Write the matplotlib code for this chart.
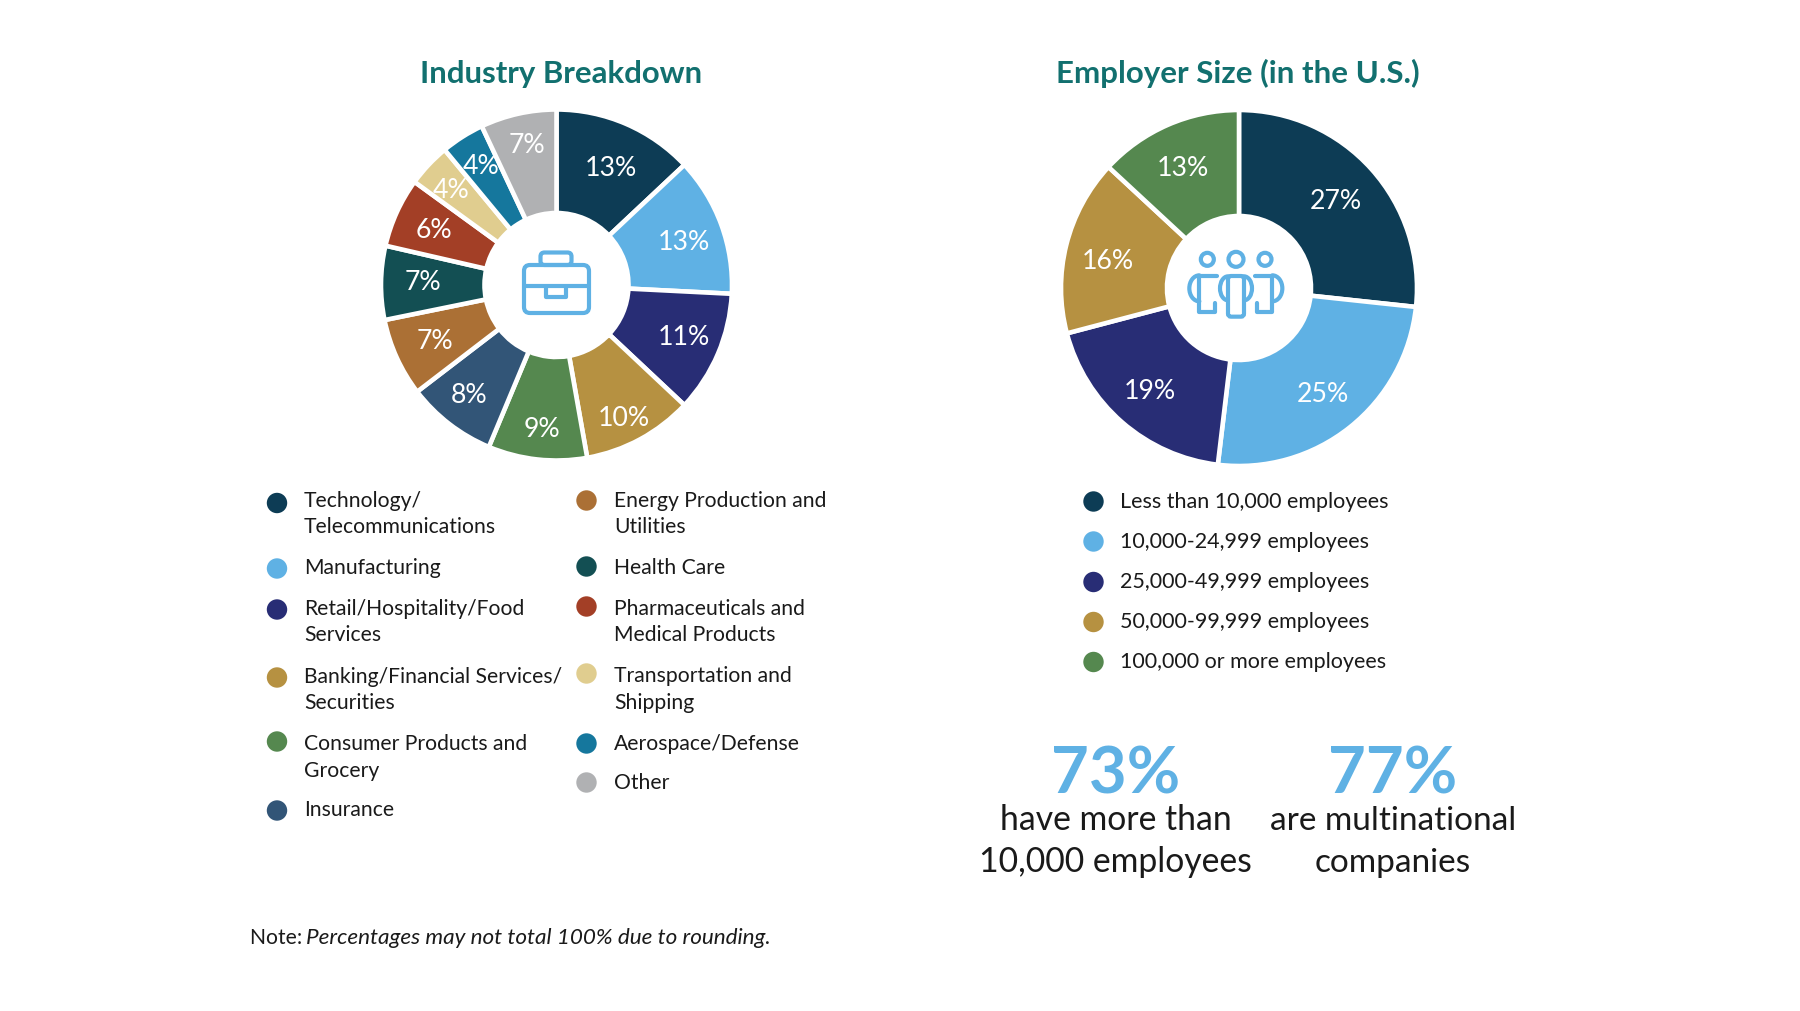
import matplotlib
matplotlib.use("Agg")
import matplotlib.pyplot as plt
from matplotlib.patches import Circle, FancyBboxPatch, Arc

plt.rcParams['font.family'] = ['Lato', 'DejaVu Sans']

# ---- data ----
industry_names = ["Technology/\nTelecommunications", "Manufacturing", "Retail/Hospitality/Food\nServices",
                  "Banking/Financial Services/\nSecurities", "Consumer Products and\nGrocery", "Insurance",
                  "Energy Production and\nUtilities", "Health Care", "Pharmaceuticals and\nMedical Products",
                  "Transportation and\nShipping", "Aerospace/Defense", "Other"]
industry_shares = [13.0, 12.8, 11.2, 10.2, 9.1, 8.3, 7.2, 6.8, 6.4, 4.0, 4.0, 7.0]
industry_labels = ["13%", "13%", "11%", "10%", "9%", "8%", "7%", "7%", "6%", "4%", "4%", "7%"]
industry_colors = ["#0d3c55", "#5fb1e4", "#282d75", "#b69141", "#55884f", "#325577",
                   "#ab7035", "#134f53", "#a33f26", "#e0cd8f", "#15779d", "#b0b1b3"]

size_names = ["Less than 10,000 employees", "10,000-24,999 employees", "25,000-49,999 employees",
              "50,000-99,999 employees", "100,000 or more employees"]
size_shares = [26.7, 25.2, 19.0, 16.0, 13.1]
size_labels = ["27%", "25%", "19%", "16%", "13%"]
size_colors = ["#0d3c55", "#5fb1e4", "#282d75", "#b69141", "#55884f"]

# ---- layout (pixels) ----
W, H = 1800, 1011
TEAL = "#12706f"
BLUE = "#5fb1e4"
TXT = "#1a1a1a"

fig = plt.figure(figsize=(W / 100, H / 100), dpi=100, facecolor="white")


def pie_axes(cx, cy, r):
    return fig.add_axes([(cx - r) / W, 1 - (cy + r) / H, 2 * r / W, 2 * r / H])


def draw_pie(cx, cy, r, inner, shares, colors):
    ax = pie_axes(cx, cy, r)
    ax.pie(shares, colors=colors, startangle=90, counterclock=False, radius=1,
           wedgeprops=dict(width=1 - inner / r, edgecolor="white", linewidth=3.3))
    ax.set_xlim(-1, 1)
    ax.set_ylim(-1, 1)
    ax.set_aspect("equal")
    ax.axis("off")


draw_pie(556.5, 285, 175.5, 72, industry_shares, industry_colors)
draw_pie(1239, 288, 178, 72, size_shares, size_colors)

ov = fig.add_axes([0, 0, 1, 1], zorder=5)
ov.set_xlim(0, W)
ov.set_ylim(H, 0)
ov.axis("off")
ov.patch.set_alpha(0)


def t(x, y, s, size, color=TXT, ha="left", va="center", **kw):
    return ov.text(x, y, s, fontsize=size, color=color, ha=ha, va=va, **kw)


# titles
t(561, 74, "Industry Breakdown", 22.4, TEAL, ha="center", weight="bold")
t(1238, 73, "Employer Size (in the U.S.)", 22.5, TEAL, ha="center", weight="bold")

# pie labels
left_pos = [(783, 378), (1003, 600), (1003, 885), (822, 1128), (575, 1160), (358, 1058),
            (255, 898), (218, 720), (253, 563), (302, 445), (393, 372), (530, 310)]
for (zx, zy), lab in zip(left_pos, industry_labels):
    t(350 + zx / 3, 42.5 + zy / 3, lab, 19.2, "white", ha="center")
right_pos = [(887, 477), (850, 1055), (328, 1047), (203, 657), (430, 378)]
for (zx, zy), lab in zip(right_pos, size_labels):
    t(1040 + zx / 3, 42.5 + zy / 3, lab, 19.2, "white", ha="center")


def dot(x, y, c):
    ov.add_patch(Circle((x, y), 10.2, facecolor=c, edgecolor="none"))


# legend 1
col1_dot = [503, 568.5, 609.5, 677.5, 741.5, 810.5]
col1_txt = [514, 568, 622, 690, 757.5, 810.5]
col2_dot = [500.5, 566.5, 606.5, 673.5, 743.5, 782.5]
col2_txt = [514, 568.5, 622, 689.5, 744, 783]
for i in range(6):
    dot(277, col1_dot[i], industry_colors[i])
    t(304, col1_txt[i], industry_names[i], 15.2, linespacing=1.43)
    dot(586.5, col2_dot[i], industry_colors[i + 6])
    t(614, col2_txt[i], industry_names[i + 6], 15.2, linespacing=1.43)

# legend 2
leg2_y = [501.5, 541.5, 582, 622, 662]
for y, n, c in zip(leg2_y, size_names, size_colors):
    dot(1093.5, y, c)
    t(1120, y, n, 15.5)

# note
t(250, 937.5, "Note: ", 15.2)
t(306.5, 937.5, "Percentages may not total 100% due to rounding.", 16.2, style="italic")

# big stats
t(1115.5, 775, "73%", 47, BLUE, ha="center", weight="bold")
t(1393, 775, "77%", 47, BLUE, ha="center", weight="bold")
t(1116, 820.5, "have more than", 24.3, ha="center")
t(1115, 861.5, "10,000 employees", 24.3, ha="center")
t(1393.5, 820.5, "are multinational", 24.0, ha="center")
t(1393, 863.5, "companies", 24.0, ha="center")

# ---- icons ----
LW = 3.0
kw = dict(facecolor="none", edgecolor=BLUE, linewidth=LW, capstyle="round")


def rrect(x0, y0, x1, y1, rad):
    ov.add_patch(FancyBboxPatch((x0 + rad, y0 + rad), x1 - x0 - 2 * rad, y1 - y0 - 2 * rad,
                                boxstyle=f"round,pad={rad},rounding_size={rad}", **kw))


def line(xs, ys):
    ov.plot(xs, ys, color=BLUE, lw=LW, solid_capstyle="round", solid_joinstyle="round")


# briefcase
rrect(524, 265, 589, 313, 6)
rrect(540.5, 252.5, 571.5, 265, 4)
line([524, 589], [286, 286])
line([546, 546, 566, 566], [286, 297, 297, 286])

# people
zx = lambda v: 1040 + v / 3
zy = lambda v: 40 + v / 3
for vx, rad in [(502, 6.5), (588, 7.5), (675, 6.5)]:
    ov.add_patch(Circle((zx(vx), zy(658)), rad, **kw))
rrect(zx(564), zy(708), zx(612), zy(830), 3)
line([zx(530), zx(478), zx(478), zx(525), zx(525)], [zy(708), zy(708), zy(815), zy(815), zy(790)])
line([zx(645), zx(697), zx(697), zx(650), zx(650)], [zy(708), zy(708), zy(815), zy(815), zy(790)])
ov.add_patch(Arc((zx(478), zy(745)), 20, 26, theta1=90, theta2=270, **kw))
ov.add_patch(Arc((zx(697), zy(745)), 20, 26, theta1=-90, theta2=90, **kw))
ov.add_patch(Arc((zx(564), zy(745)), 16, 24, theta1=90, theta2=270, **kw))
ov.add_patch(Arc((zx(612), zy(745)), 16, 24, theta1=-90, theta2=90, **kw))

fig.savefig("out.png", dpi=100, facecolor="white")
